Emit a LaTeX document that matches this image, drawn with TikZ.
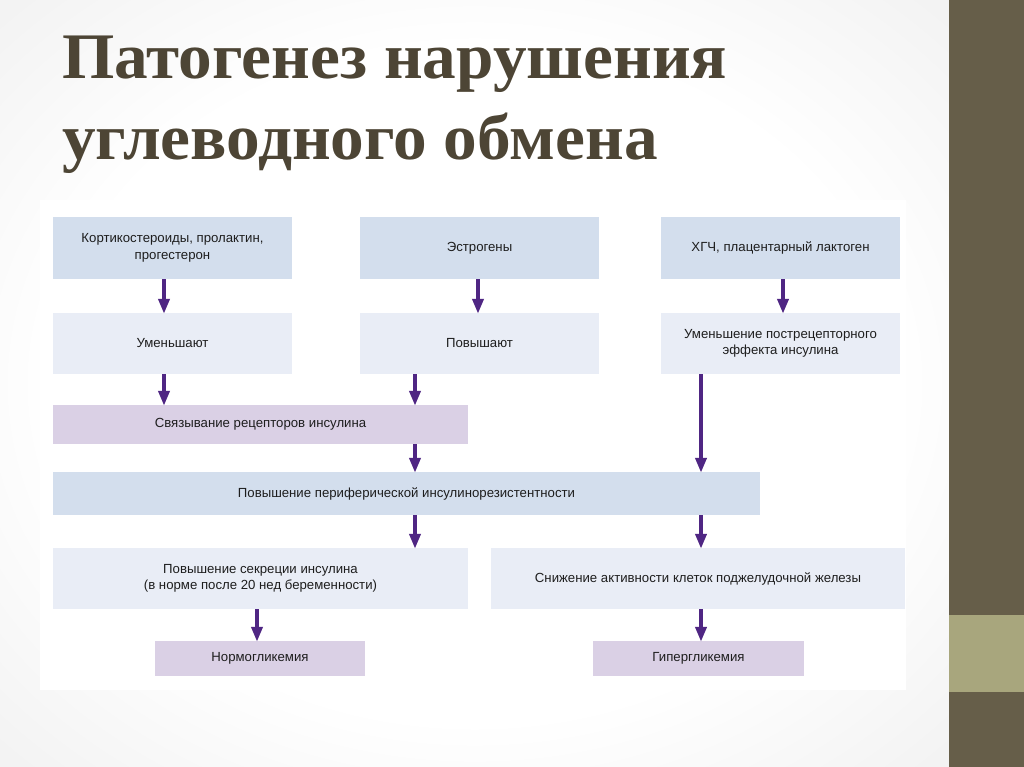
\documentclass[tikz,border=0pt]{standalone}
\usepackage{fontspec}
\setmainfont{Liberation Sans}
\newfontfamily\titlefont{Liberation Serif}
\usetikzlibrary{arrows.meta}
\definecolor{blueA}{HTML}{D3DEED}
\definecolor{paleB}{HTML}{E9EDF6}
\definecolor{lavC}{HTML}{DAD0E5}
\definecolor{arrC}{HTML}{4F2683}
\definecolor{barD}{HTML}{665E49}
\definecolor{bandE}{HTML}{A8A67D}
\definecolor{titleF}{HTML}{4D4535}
\definecolor{txtG}{HTML}{1E1E1E}
\pgfdeclareradialshading{bgshade}{\pgfpoint{0bp}{0bp}}{color(0bp)=(white); color(22bp)=(white); color(34bp)=(gray!9); color(50bp)=(gray!14)}
\tikzset{
  box/.style={draw=none, inner sep=2pt, align=center, text=txtG,
    font=\fontsize{13.2}{16.5}\selectfont},
  arr/.style={draw=arrC, line width=4pt, -{Triangle[width=11pt,length=15pt]}, shorten >=-1pt},
  ttl/.style={anchor=base west, text=titleF, inner sep=0pt,
    font=\titlefont\bfseries\fontsize{65}{72}\selectfont, xscale=1.035},
}
\begin{document}
\begin{tikzpicture}[x=1pt,y=-1pt]
\useasboundingbox (0,0) rectangle (1024,767);
% background
\fill[gray!14] (0,0) rectangle (1024,767);
\shade[shading=bgshade] (0,0) rectangle (949,767);
\fill[white] (40,200) rectangle (906,690);
\fill[barD] (949,0) rectangle (1024,767);
\fill[bandE] (949,615) rectangle (1024,692);
% title
\node[ttl] (t1) at (62,79) {Патогенез нарушения};
\node[ttl] (t2) at (62,160) {углеводного обмена};
% boxes
\node[box, fill=blueA, minimum width=239pt, minimum height=62pt] (a) at (172.5,248) {Кортикостероиды, пролактин,\\прогестерон};
\node[box, fill=blueA, minimum width=239pt, minimum height=62pt] (b) at (479.5,248) {Эстрогены};
\node[box, fill=blueA, minimum width=239pt, minimum height=62pt] (c) at (780.5,248) {ХГЧ, плацентарный лактоген};
\node[box, fill=paleB, minimum width=239pt, minimum height=61pt] (a2) at (172.5,343.5) {Уменьшают};
\node[box, fill=paleB, minimum width=239pt, minimum height=61pt] (b2) at (479.5,343.5) {Повышают};
\node[box, fill=paleB, minimum width=239pt, minimum height=61pt] (c2) at (780.5,343.5) {Уменьшение пострецепторного\\эффекта инсулина};
\node[box, fill=lavC, minimum width=415pt, minimum height=39pt] (sv) at (260.5,424.5) {Связывание рецепторов инсулина};
\node[box, fill=blueA, minimum width=707pt, minimum height=43pt] (pp) at (406.5,493.5) {Повышение периферической инсулинорезистентности};
\node[box, fill=paleB, minimum width=415pt, minimum height=61pt] (ps) at (260.5,578.5) {Повышение секреции инсулина\\(в норме после 20 нед беременности)};
\node[box, fill=paleB, minimum width=414pt, minimum height=61pt] (sn) at (698,578.5) {Снижение активности клеток поджелудочной железы};
\node[box, fill=lavC, minimum width=210pt, minimum height=35pt] (ng) at (260,658.5) {Нормогликемия};
\node[box, fill=lavC, minimum width=211pt, minimum height=35pt] (gg) at (698.5,658.5) {Гипергликемия};
% arrow columns
\coordinate (xa) at (164,0);
\coordinate (xb) at (478,0);
\coordinate (xc) at (783,0);
\coordinate (xm) at (415,0);
\coordinate (xr) at (701,0);
\coordinate (xn) at (257,0);
% arrows
\draw[arr] (a.south -| xa) -- (a2.north -| xa);
\draw[arr] (b.south -| xb) -- (b2.north -| xb);
\draw[arr] (c.south -| xc) -- (c2.north -| xc);
\draw[arr] (a2.south -| xa) -- (sv.north -| xa);
\draw[arr] (b2.south -| xm) -- (sv.north -| xm);
\draw[arr] (sv.south -| xm) -- (pp.north -| xm);
\draw[arr] (c2.south -| xr) -- (pp.north -| xr);
\draw[arr] (pp.south -| xm) -- (ps.north -| xm);
\draw[arr] (pp.south -| xr) -- (sn.north -| xr);
\draw[arr] (ps.south -| xn) -- (ng.north -| xn);
\draw[arr] (sn.south -| xr) -- (gg.north -| xr);
\end{tikzpicture}
\end{document}
